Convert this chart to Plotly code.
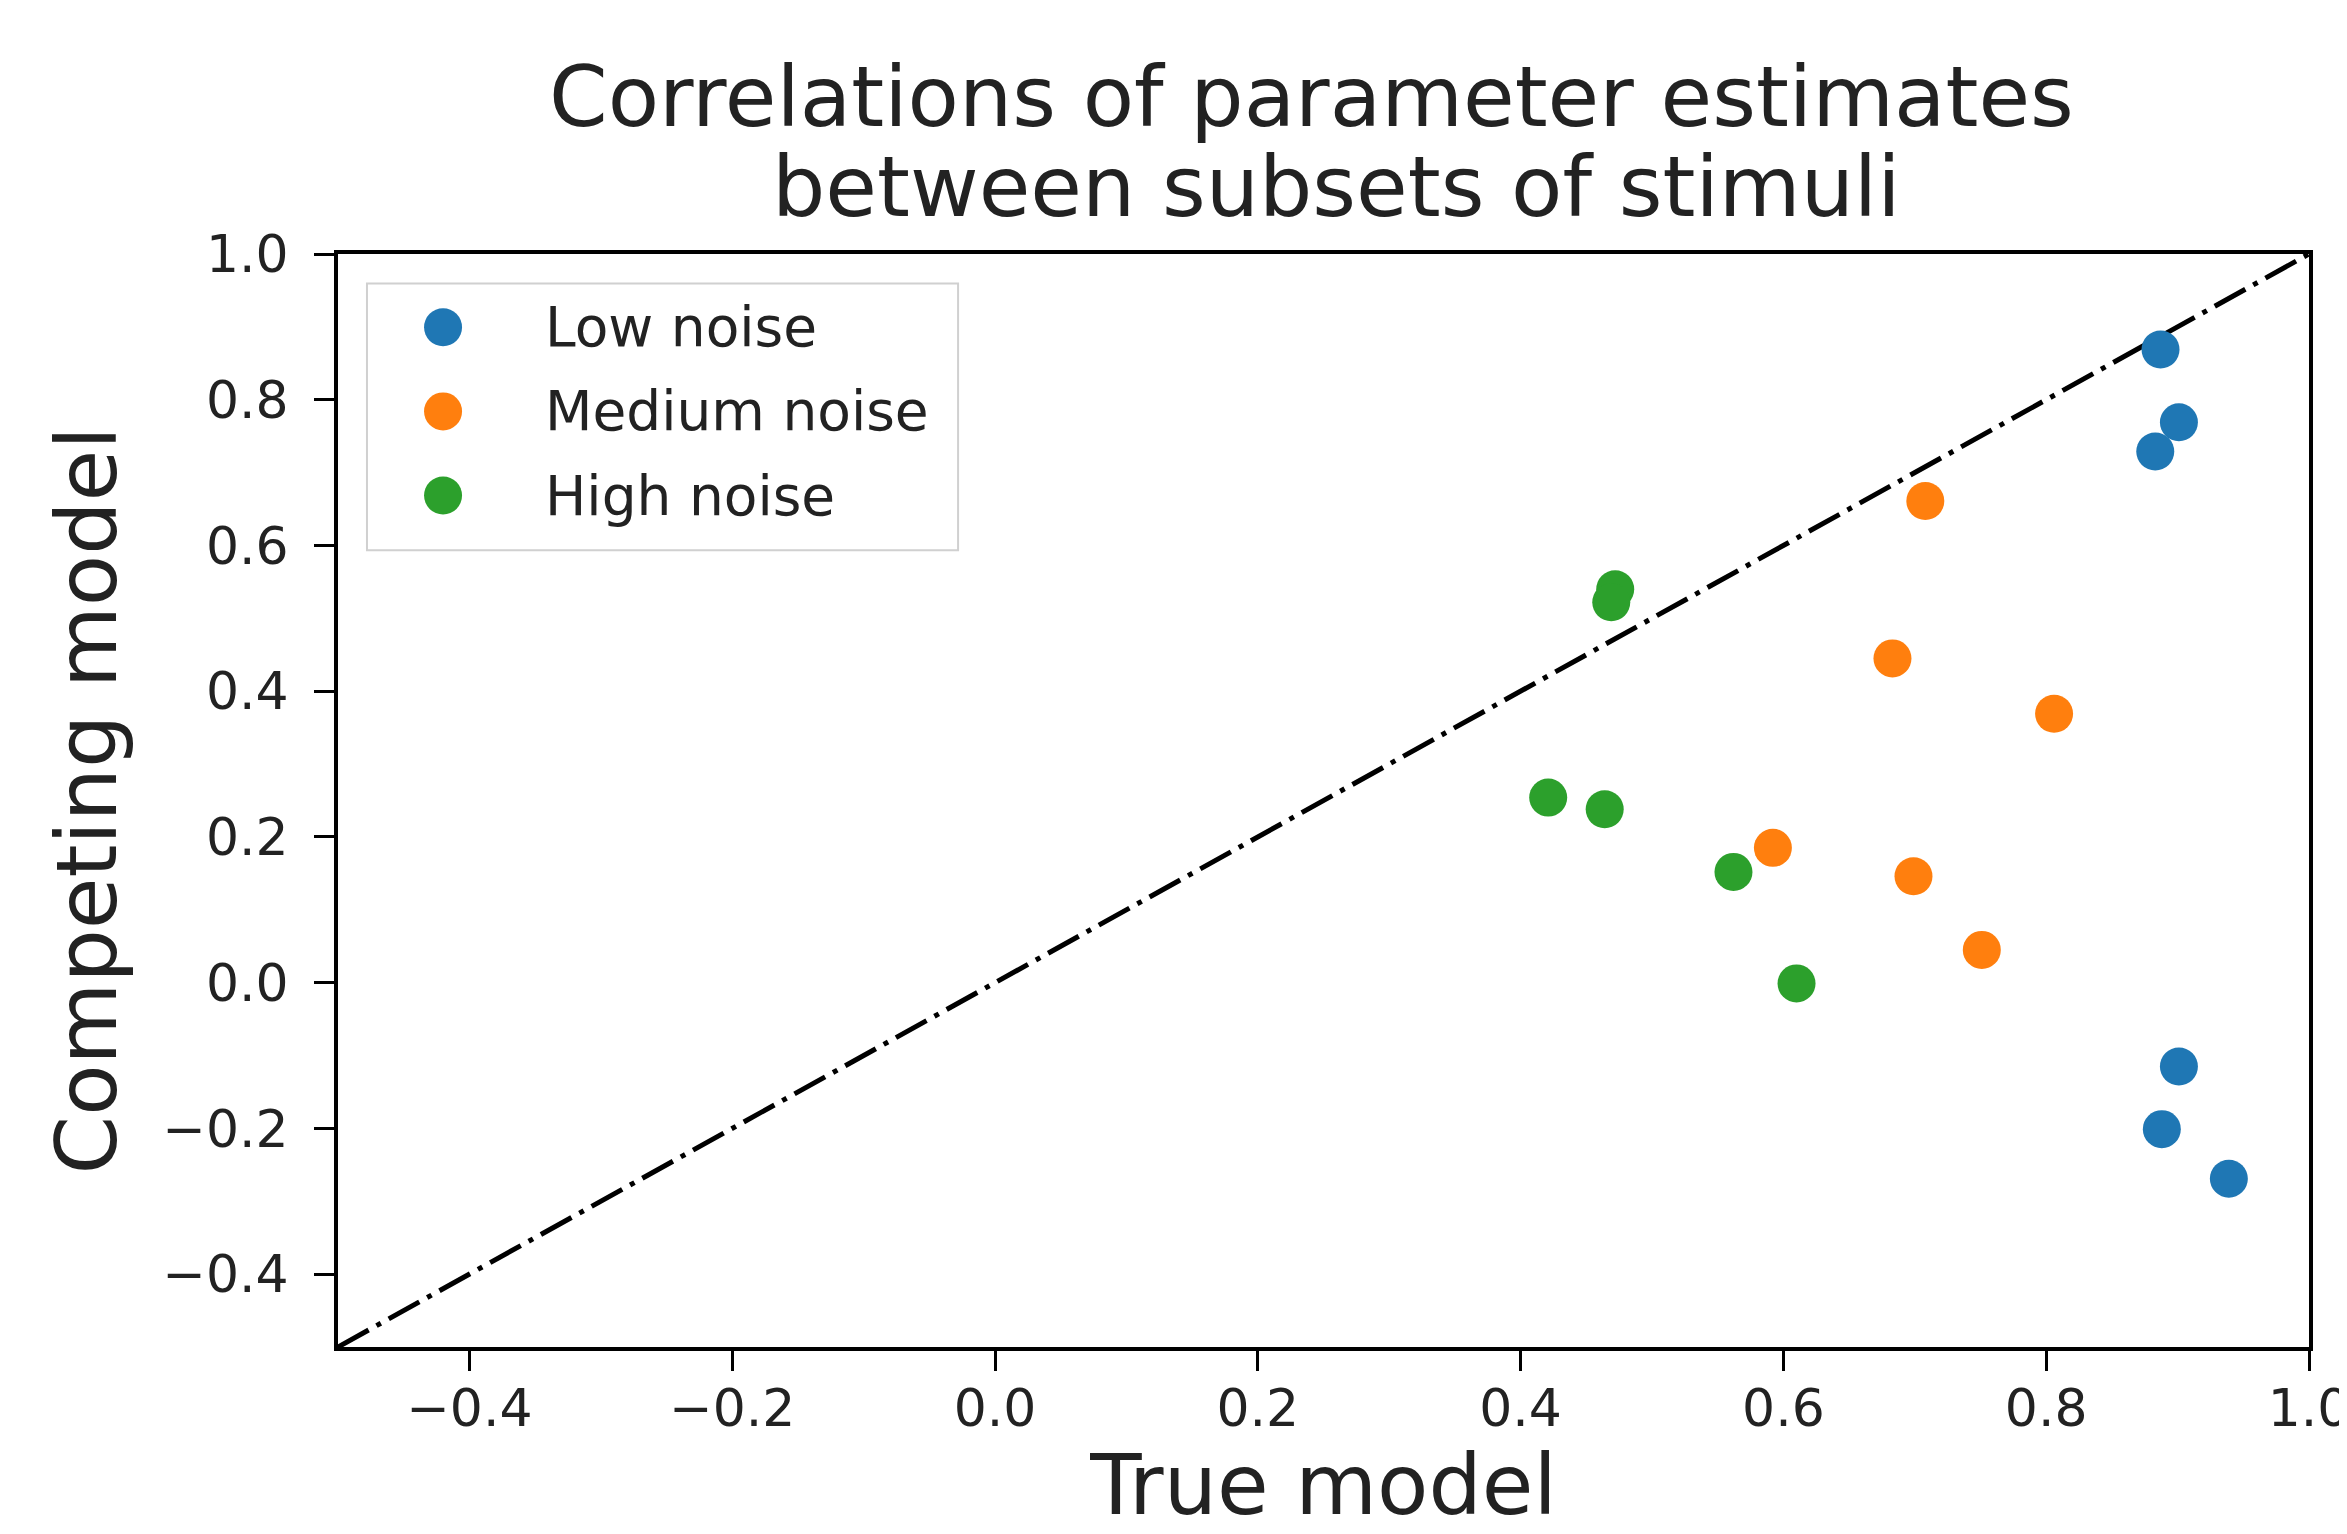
import plotly.graph_objects as go

# ---- data ----
series_names = ["Low noise", "Medium noise", "High noise"]
series_colors = ["#1f77b4", "#ff7f0e", "#2ca02c"]

low_x = [0.887, 0.901, 0.883, 0.901, 0.888, 0.939]
low_y = [0.869, 0.769, 0.729, -0.115, -0.201, -0.269]

med_x = [0.708, 0.683, 0.806, 0.592, 0.699, 0.751]
med_y = [0.661, 0.445, 0.369, 0.185, 0.146, 0.045]

high_x = [0.472, 0.469, 0.421, 0.464, 0.562, 0.610]
high_y = [0.540, 0.522, 0.254, 0.238, 0.152, -0.001]

diag_x = [-0.5, 1.0]
diag_y = [-0.5, 1.0]

tick_vals = [-0.4, -0.2, 0.0, 0.2, 0.4, 0.6, 0.8, 1.0]
tick_text = ["\u22120.4", "\u22120.2", "0.0", "0.2", "0.4", "0.6", "0.8", "1.0"]

title_lines = ["Correlations of parameter estimates", "between subsets of stimuli"]

FONT = "DejaVu Sans"
# page body has an 8px default margin, so the figure is drawn 8px in and down
W, H = 2339, 1526
L, R, T, B = 330, 38, 246, 187

fig = go.Figure()

fig.add_trace(go.Scatter(
    x=diag_x, y=diag_y, mode="lines",
    line=dict(color="black", width=5, dash="35px,9px,5px,9px"),
    showlegend=False, hoverinfo="skip"))

for name, color, xs, ys in zip(series_names, series_colors,
                               [low_x, med_x, high_x], [low_y, med_y, high_y]):
    fig.add_trace(go.Scatter(
        x=xs, y=ys, mode="markers", name=name,
        marker=dict(color=color, size=38, line=dict(width=0)),
        showlegend=False, cliponaxis=False))

# ---- custom legend (paper coordinates) ----
shapes = [dict(type="rect", xref="paper", yref="paper",
               x0=0.0147, x1=0.3146, y0=0.729, y1=0.973,
               line=dict(color="#d0d0d0", width=2), fillcolor="rgba(255,255,255,0.8)",
               layer="above")]
annotations = []
row_y = [0.933, 0.856, 0.779]
for name, color, ry in zip(series_names, series_colors, row_y):
    shapes.append(dict(type="circle", xref="paper", yref="paper",
                       xsizemode="pixel", ysizemode="pixel",
                       xanchor=0.0533, yanchor=ry,
                       x0=-19, x1=19, y0=-19, y1=19,
                       fillcolor=color, line=dict(width=0), layer="above"))
    annotations.append(dict(xref="paper", yref="paper", x=0.1040, y=ry,
                            xanchor="left", yanchor="middle", showarrow=False,
                            text=name, font=dict(family=FONT, size=55, color="#222")))

# title (two lines, measured centres)
for txt, tx, ty in zip(title_lines, [0.4937, 0.5068], [1.1436, 1.0613]):
    annotations.append(dict(xref="paper", yref="paper", x=tx, y=ty,
                            xanchor="center", yanchor="middle", showarrow=False,
                            text=txt, font=dict(family=FONT, size=84, color="#222")))

axis_common = dict(
    showgrid=False, zeroline=False, showline=True, mirror=True,
    linecolor="black", linewidth=4,
    ticks="outside", ticklen=20, tickwidth=2.5, tickcolor="black",
    tickvals=tick_vals, ticktext=tick_text,
    tickfont=dict(family=FONT, size=52, color="#222"),
    ticklabeloverflow="allow",
)

fig.update_layout(
    width=W, height=H,
    margin=dict(l=L, r=R, t=T, b=B, autoexpand=False),
    paper_bgcolor="white", plot_bgcolor="white",
    showlegend=False,
    shapes=shapes, annotations=annotations,
    xaxis=dict(range=[-0.5, 1.0], **axis_common,
               ticklabelstandoff=-7,
               title=dict(text="True model", font=dict(family=FONT, size=84, color="#222"),
                          standoff=45)),
    yaxis=dict(range=[-0.5, 1.0], **axis_common,
               ticklabelstandoff=15,
               title=dict(text="Competing model", font=dict(family=FONT, size=84, color="#222"),
                          standoff=19)),
)

fig.write_html("out.html")
